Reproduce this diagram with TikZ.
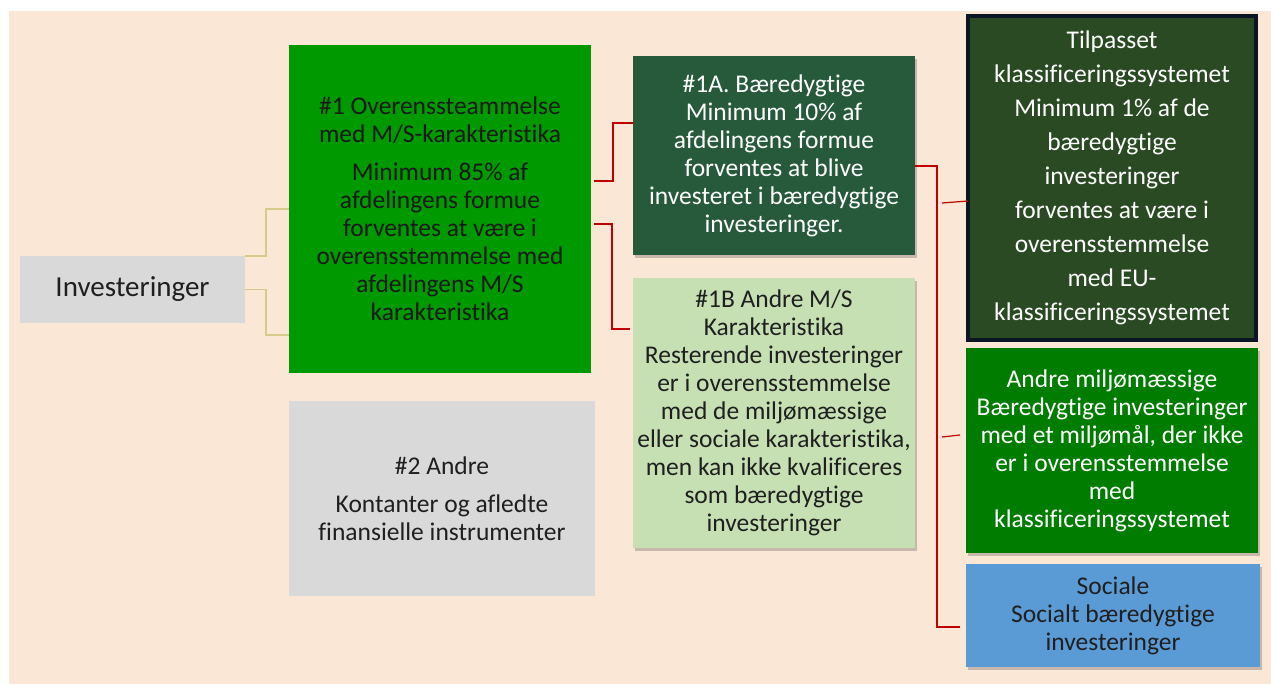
\documentclass[tikz,border=0pt]{standalone}
\usepackage{fontspec}
\setmainfont{Carlito}[Ligatures=NoCommon]
\usepackage{tikz}
\usetikzlibrary{shadows}

\definecolor{beige}{HTML}{FBE7D6}
\definecolor{greyfill}{HTML}{D9D9D9}
\definecolor{msgreen}{HTML}{009900}
\definecolor{darkgreen}{HTML}{265A3B}
\definecolor{lightgreen}{HTML}{C6E0B4}
\definecolor{taxgreen}{HTML}{2A4A23}
\definecolor{taxborder}{HTML}{0B1526}
\definecolor{envgreen}{HTML}{007C00}
\definecolor{socblue}{HTML}{5B9BD5}
\definecolor{redline}{HTML}{C00000}
\definecolor{tanline}{HTML}{D8CA8C}
\definecolor{darktext}{HTML}{1F1F1F}

\tikzset{
  box/.style={inner sep=0pt, outer sep=0pt, align=center, font=\fontsize{25.5}{28}\selectfont},
  shade/.style={drop shadow={shadow xshift=2pt, shadow yshift=-3pt, opacity=0.2, fill=black}},
  tan/.style={draw=tanline, line width=1.3pt},
  red/.style={draw=redline, line width=1.6pt}
}

\begin{document}
\begin{tikzpicture}[x=1pt,y=-1pt]
\useasboundingbox (0,0) rectangle (1271,684);
\fill[beige] (9,11) rectangle (1271,684);

\node[box, fill=greyfill, text=darktext, minimum width=225, minimum height=67, font=\fontsize{29}{32}\selectfont] (inv) at (132.5,289.5) {Investeringer};

\node[box, fill=msgreen, text=black!90, minimum width=302, minimum height=328] (one) at (440,209)
  {\#1 Overenssteammelse\\ med M/S-karakteristika\\[10pt]
   Minimum 85\% af\\ afdelingens formue\\ forventes at være i\\ overensstemmelse med\\ afdelingens M/S\\ karakteristika};

\node[box, fill=greyfill, text=darktext, minimum width=306, minimum height=195] (two) at (442,498.5)
  {\#2 Andre\\[10pt] Kontanter og afledte\\ finansielle instrumenter};

\node[box, shade, fill=darkgreen, text=white, minimum width=282, minimum height=199] (oneA) at (774,155.5)
  {\#1A. Bæredygtige\\ Minimum 10\% af\\ afdelingens formue\\ forventes at blive\\ investeret i bæredygtige\\ investeringer.};

\node[box, shade, fill=lightgreen, text=darktext, minimum width=282, minimum height=270] (oneB) at (774,413)
  {\#1B Andre M/S\\ Karakteristika\\ Resterende investeringer\\ er i overensstemmelse\\ med de miljømæssige\\ eller sociale karakteristika,\\ men kan ikke kvalificeres\\ som bæredygtige\\ investeringer};

\node[box, fill=taxgreen, draw=taxborder, line width=4pt, text=white, minimum width=288, minimum height=324, font=\fontsize{25.5}{34}\selectfont] (tax) at (1112,178)
  {Tilpasset\\ klassificeringssystemet\\ Minimum 1\% af de\\ bæredygtige\\ investeringer\\ forventes at være i\\ overensstemmelse\\ med EU-\\ klassificeringssystemet};

\node[box, shade, fill=envgreen, text=white, minimum width=292, minimum height=205] (env) at (1112,450.5)
  {Andre miljømæssige\\ Bæredygtige investeringer\\ med et miljømål, der ikke\\ er i overensstemmelse\\ med\\ klassificeringssystemet};

\node[box, shade, fill=socblue, text=darktext, minimum width=294, minimum height=103] (soc) at (1113,615.5)
  {Sociale\\ Socialt bæredygtige\\ investeringer};

% connectors
\draw[tan] (inv.north east) -- ++(21,0) |- (one.west);
\draw[tan] (inv.east) -- ++(21,0) |- ([yshift=-126pt]one.west);

\draw[red] ([xshift=3pt,yshift=28pt]one.east) -- ++(19,0) |- ([yshift=32.5pt]oneA.west);
\draw[red] ([xshift=3pt,yshift=-15pt]one.east) -- ++(18,0) |- ([xshift=-3pt,yshift=84pt]oneB.west);

\draw[red] ([yshift=-10.5pt]oneA.east) -- ++(22,0) |- ([xshift=-6pt,yshift=-11.5pt]soc.west);
\coordinate (taxtick) at (942,203);
\coordinate (envtick) at (942,437);
\draw[red, line width=1.2pt] (taxtick) -- ([yshift=-23pt]tax.west);
\draw[red, line width=1.2pt] (envtick) -- ([xshift=-6pt,yshift=15.5pt]env.west);
\end{tikzpicture}
\end{document}
